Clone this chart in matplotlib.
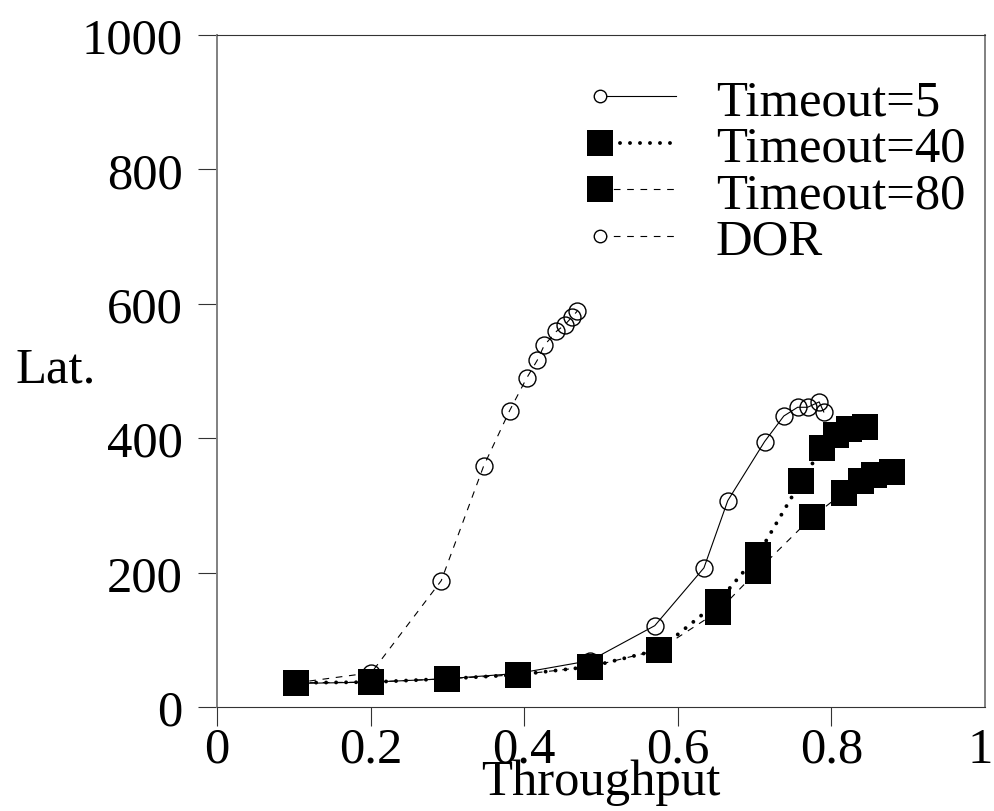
import matplotlib
matplotlib.use("Agg")
import matplotlib.pyplot as plt
import matplotlib.transforms as mtransforms
from matplotlib.legend_handler import HandlerLine2D
from matplotlib.lines import Line2D

# data
t5_x = [0.103, 0.201, 0.299, 0.392, 0.486, 0.570, 0.634, 0.665, 0.713, 0.738, 0.756, 0.769, 0.784, 0.790]
t5_y = [35, 37, 42, 50, 69, 121, 207, 307, 395, 433, 446, 446, 454, 439]

t40_x = [0.103, 0.201, 0.299, 0.392, 0.486, 0.575, 0.652, 0.704, 0.761, 0.788, 0.806, 0.823, 0.844]
t40_y = [36, 37, 42, 48, 60, 85, 156, 226, 337, 385, 404, 414, 416]

t80_x = [0.103, 0.201, 0.299, 0.392, 0.486, 0.575, 0.652, 0.704, 0.775, 0.816, 0.838, 0.855, 0.879]
t80_y = [36, 37, 42, 48, 60, 85, 142, 203, 283, 319, 336, 345, 350]

dor_x = [0.103, 0.201, 0.292, 0.347, 0.381, 0.403, 0.417, 0.426, 0.442, 0.453, 0.462, 0.469]
dor_y = [36, 51, 188, 358, 441, 489, 516, 538, 559, 569, 580, 589]

labels = ["Timeout=5", "Timeout=40", "Timeout=80", "DOR"]
x_ticks = [0, 0.2, 0.4, 0.6, 0.8, 1.0]
x_ticklabels = ["0", "0.2", "0.4", "0.6", "0.8", "1"]
y_ticks = [0, 200, 400, 600, 800, 1000]


class LeftMarkerHandler(HandlerLine2D):
    """gnuplot-style key: marker sits at the left end of the sample line."""

    def create_artists(self, legend, orig_handle, xdescent, ydescent,
                       width, height, fontsize, trans):
        x0 = -xdescent
        y = (height - ydescent) / 2
        line = Line2D([x0, x0 + width], [y, y])
        self.update_prop(line, orig_handle, legend)
        line.set_markevery([0])
        line.set_transform(trans)
        return [line]


plt.rcParams["font.family"] = ["Liberation Serif", "DejaVu Serif"]
FS = 36.5

fig = plt.figure(figsize=(9.94, 8.12), dpi=100)
ax = fig.add_axes([0.2183, 0.1281, 0.7727, 0.8276])

DASH = (0, (6, 6))
DOT = (0, (0.01, 2.56))

circ = dict(marker="o", ms=12.2, mfc="none", mec="black", mew=1.0)
sq = dict(marker="s", ms=19.4, mfc="black", mec="black", mew=0)

ax.plot(t5_x, t5_y, color="black", lw=0.8, ls="-", **circ)
ax.plot(dor_x, dor_y, color="black", lw=0.8, ls=DASH, **circ)
ax.plot(t80_x, t80_y, color="black", lw=0.8, ls=DASH, **sq)
ax.plot(t40_x, t40_y, color="black", lw=2.8, ls=DOT,
        dash_capstyle="round", **sq)

ax.set_xlim(0, 1)
ax.set_ylim(0, 1000)
ax.set_xticks(x_ticks)
ax.set_xticklabels(x_ticklabels)
ax.set_yticks(y_ticks)
ax.tick_params(direction="out", length=13.7, width=0.8, labelsize=FS,
               color="#333333")
ax.tick_params(axis="x", pad=0)
ax.tick_params(axis="y", pad=11)
ax.xaxis.get_major_ticks()[-1].tick1line.set_visible(False)
# nudge the "1" label so it stays inside the canvas
last = ax.get_xticklabels()[-1]
last.set_transform(last.get_transform()
                   + mtransforms.ScaledTranslation(-5 / 100, 0, fig.dpi_scale_trans))

for side in ["left", "right"]:
    ax.spines[side].set_color("#808080")
    ax.spines[side].set_linewidth(1.4)
for side in ["top", "bottom"]:
    ax.spines[side].set_color("#333333")
    ax.spines[side].set_linewidth(0.8)

ax.set_xlabel("Throughput", fontsize=FS)
ax.xaxis.set_label_coords(0.5, -0.077)
ax.set_ylabel("Lat.", fontsize=FS, rotation=0, ha="center", va="center")
ax.yaxis.set_label_coords(-0.21, 0.503)

handles = [
    Line2D([], [], color="black", lw=0.8, ls="-", marker="o", ms=9,
           mfc="white", mec="black", mew=1.0),
    Line2D([], [], color="black", lw=2.8, ls=DOT, dash_capstyle="round",
           marker="s", ms=19.4, mfc="black", mew=0),
    Line2D([], [], color="black", lw=0.8, ls=DASH, marker="s", ms=19.4,
           mfc="black", mew=0),
    Line2D([], [], color="black", lw=0.8, ls=DASH, marker="o", ms=9,
           mfc="white", mec="black", mew=1.0),
]
ax.legend(handles, labels, loc="upper left", bbox_to_anchor=(0.499, 0.935),
          frameon=False, fontsize=FS, handlelength=1.5,
          handletextpad=0.78, labelspacing=0.0, borderpad=0,
          borderaxespad=0, handler_map={Line2D: LeftMarkerHandler()})

fig.savefig("out.png", dpi=100)
